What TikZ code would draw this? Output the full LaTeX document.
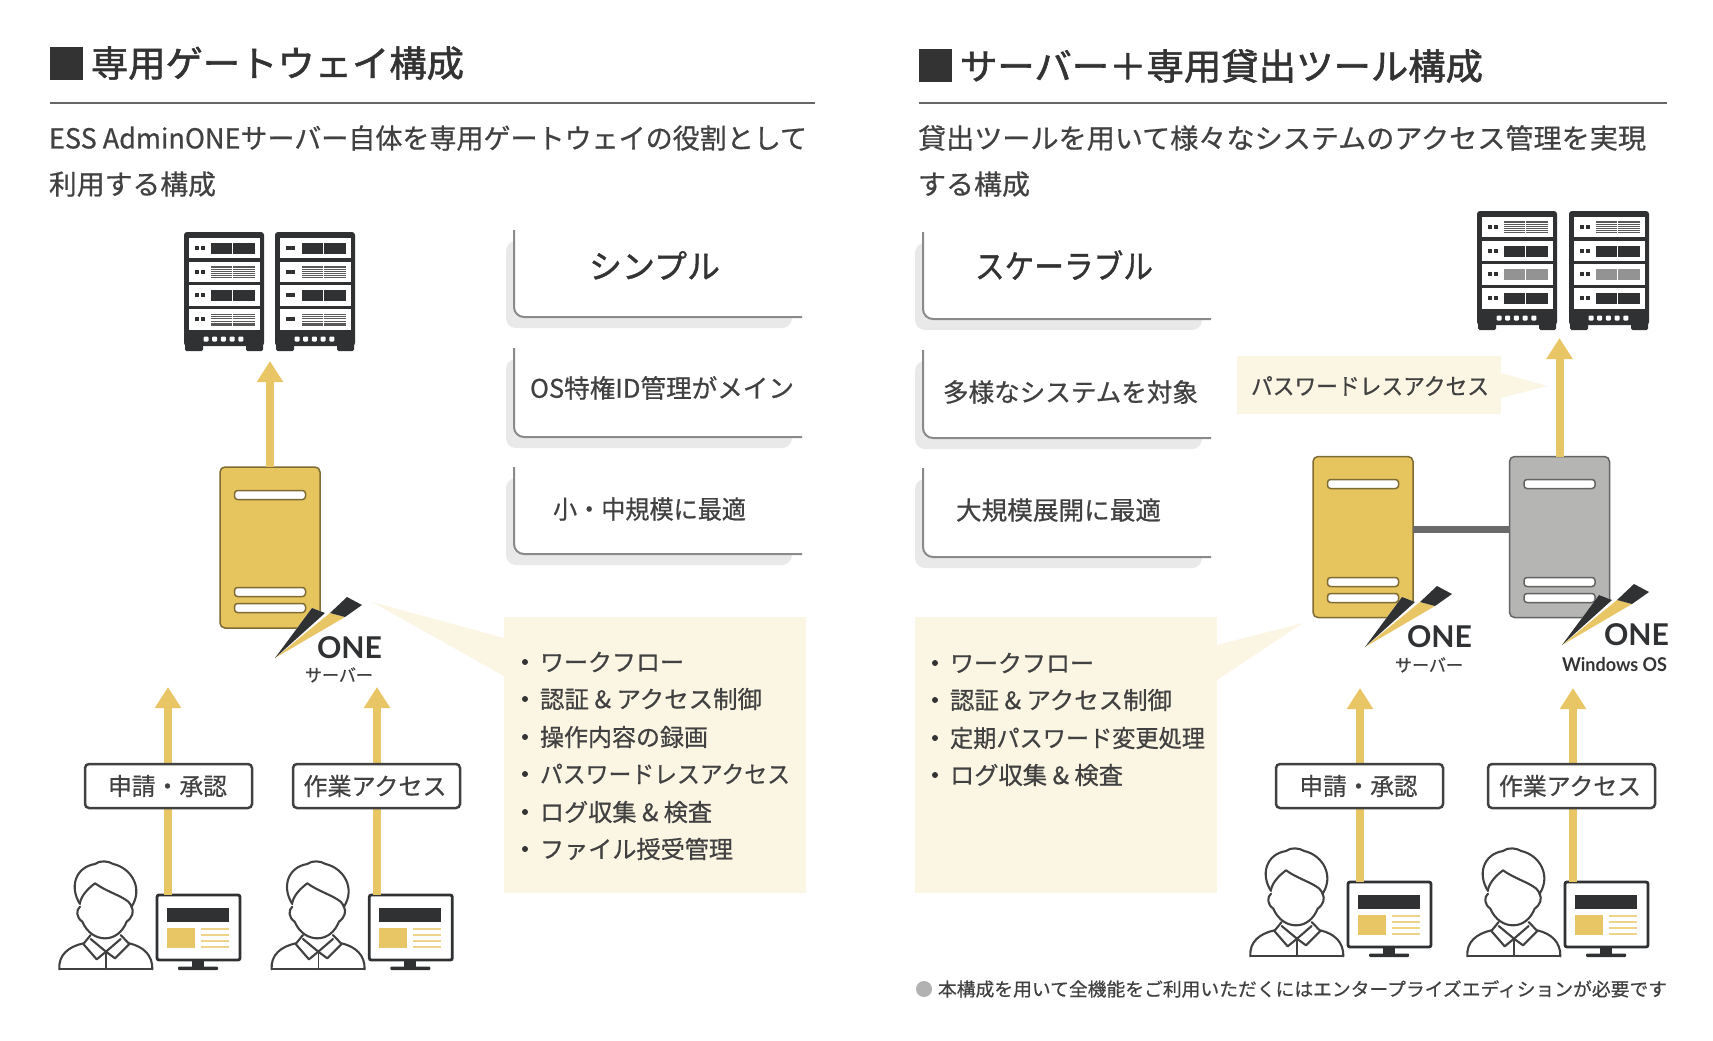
\documentclass[tikz,border=0pt]{standalone}
\usepackage{graphicx}
\usepackage{fontspec}
\usetikzlibrary{arrows.meta}
\setmainfont[FakeBold=0.6]{Noto Sans CJK JP}
\newfontfamily\jptitle[FakeBold=1.6]{Noto Sans CJK JP}
\newfontfamily\jphead[FakeBold=1.2]{Noto Sans CJK JP}
\newfontfamily\logofont[Scale=1]{Lato}
\definecolor{ink}{HTML}{414141}
\definecolor{inkd}{HTML}{333333}
\definecolor{gold}{HTML}{E8C665}
\definecolor{goldf}{HTML}{E6C45E}
\definecolor{cream}{HTML}{FBF5E3}
\definecolor{rackd}{HTML}{2F3133}
\definecolor{shad}{HTML}{E9E9E9}
\definecolor{cardl}{HTML}{8A8A8A}
\definecolor{greyf}{HTML}{B5B5B3}
\definecolor{lineg}{HTML}{6A6A6A}
\newcommand\W[2]{\resizebox{#1pt}{\height}{#2}}
\tikzset{
  tx/.style={inner sep=0pt,outer sep=0pt,text=ink,font=\fontsize{#1}{#1}\selectfont,execute at begin node={\rule[-.12em]{0pt}{1em}}},
  arr/.style={draw=gold,line width=8pt,-{Triangle[width=25pt,length=21pt]}},
  srv/.style={draw=#1!55!black,line width=1.5pt,rounded corners=5pt,minimum width=100pt,minimum height=161pt,inner sep=0pt,outer sep=0pt,fill=#1},
  slot/.style={draw=#1,line width=1.5pt,fill=white,rounded corners=3pt},
  tag/.style={draw=ink,line width=2.5pt,fill=white,rounded corners=4pt,minimum width=167pt,minimum height=44pt,inner sep=0pt,text=ink,font=\fontsize{24}{24}\selectfont},
  monf/.style={draw=rackd,line width=2.8pt,rounded corners=2pt,fill=white,minimum width=83pt,minimum height=65pt,inner sep=0pt,outer sep=0pt},
  prs/.style={draw=ink,line width=2.1pt,line join=round,line cap=round},
}
% rack icon: x, y, rows (ypos/type), led width
\newcommand\rackicon[4]{%
 \begin{scope}[shift={(#1,#2)}]
  \fill[rackd,rounded corners=3pt] (0,0) rectangle (80,114);
  \fill[rackd,rounded corners=1.5pt] (1,109) rectangle (19,119);
  \fill[rackd,rounded corners=1.5pt] (62,109) rectangle (79,119);
  \foreach \ry/\ty in {#3}{
    \fill[white] (5,\ry) rectangle (75.5,\ry+20.5);
    \if b#4
      \fill[rackd] (10.5,\ry+8) rectangle (20,\ry+12);
    \else
      \fill[rackd] (10.5,\ry+8) rectangle (14.5,\ry+12);
      \fill[rackd] (16.5,\ry+8) rectangle (20.5,\ry+12);
    \fi
    \foreach \pa/\pb in {27/47.8,49.2/71}{
      \if d\ty
        \fill[rackd] (\pa,\ry+5) rectangle (\pb,\ry+16);
      \else
        \if g\ty
          \fill[gray!85] (\pa,\ry+5) rectangle (\pb,\ry+16);
        \else
          \foreach \l in {5.5,7.7,9.9,12.1,14.3,16}{
            \draw[line width=1.1pt,black!65] (\pa,\ry+\l) -- (\pb,\ry+\l);
          }
        \fi
      \fi
    }
  }
  \foreach \d in {22,30.7,39.4,48.1,56.8}{
    \fill[white,rounded corners=1pt] (\d-2.5,104.5) rectangle (\d+2.5,109.5);
  }
 \end{scope}}
% slots of a server: x left, y values
\newcommand\slots[5]{%
  \foreach \sy in {#2,#3,#4}{
    \draw[slot=#5!55!black] (#1,\sy-4.5) rectangle (#1+71,\sy+4.5);
  }}
% ONE logo: tail x, y, name
\newcommand\onelogo[3]{%
 \begin{scope}[shift={(#1,#2)}]
  \fill[white] (0,0) -- (37,-50) -- (50,-45) -- (70,-41) -- (110,-41) -- (110,5) -- cycle;
  \fill[gold] (0,0) -- (55,-45) -- (70,-41) -- cycle;
  \fill[rackd] (0,0) -- (37,-50) -- (50,-45) -- cycle;
  \fill[rackd] (72,-61) -- (87,-53) -- (70,-41) -- (55,-45) -- cycle;
  \node[inner sep=0pt,text=rackd,font=\logofont\bfseries\fontsize{30}{30}\selectfont] (#3) at (74.5,-10.5) {\W{65}{ONE}};
 \end{scope}}
% person + monitor: dx dy monitor-name
\newcommand\usericon[3]{%
 \begin{scope}[shift={(#1,#2)}]
  \node[monf] (#3) at (198.5,927.5) {};
  \fill[rackd] (167,908) rectangle (229,922);
  \fill[gold] (167,928) rectangle (195,948);
  \foreach \l in {929,935,941,947}{\draw[line width=1.6pt,gold!75] (201,\l) -- (229,\l);}
  \fill[rackd] (192,961) rectangle (204,967);
  \fill[rackd,rounded corners=1pt] (178,966.5) rectangle (218,970);
 \end{scope}
 \begin{scope}[shift={(#1,#2+680)},x=.33333pt,y=-.33333pt]
  \draw[prs] (240,672) .. controls (208,622) and (225,562) .. (285,552) .. controls (300,540) and (325,543) .. (340,552) .. controls (395,565) and (430,625) .. (395,680);
  \draw[prs] (240,668) .. controls (245,645) and (265,625) .. (285,610) .. controls (320,635) and (360,645) .. (385,665) .. controls (392,672) and (393,676) .. (395,682);
  \draw[prs] (240,680) .. controls (228,690) and (228,712) .. (247,725) .. controls (262,760) and (290,775) .. (315,775) .. controls (345,775) and (368,755) .. (380,725) .. controls (398,712) and (402,695) .. (395,680);
  \draw[prs] (272,765) -- (250,792) -- (290,838) -- (318,815) -- (345,835) -- (388,792) -- (362,765);
  \draw[prs] (272,777) -- (318,815) -- (362,777);
  \draw[prs] (178,868) .. controls (175,825) and (205,800) .. (250,790);
  \draw[prs] (457,868) .. controls (458,825) and (430,800) .. (388,790);
  \draw[prs] (178,868) -- (457,868);
  \draw[prs,line width=1.4pt] (318,815) -- (318,868);
 \end{scope}}
\newcommand\card[5]{% x top bottom right shadowright
  \fill[shad,rounded corners=10pt] (#1-8,#2+11) rectangle (#5,#3+11);
  \fill[white,rounded corners=10pt] (#1,#2-4) rectangle (#4+20,#3);
  \fill[white] (#4,#2-4) rectangle (#4+24,#3+14);
  \draw[cardl,line width=2pt,rounded corners=10pt] (#1,#2) -- (#1,#3) -- (#4,#3);
}
\begin{document}
\begin{tikzpicture}[x=1pt,y=-1pt]
\useasboundingbox[fill=white] (0,0) rectangle (1713,1041);
% ---------- headers ----------
\fill[inkd] (50,47) rectangle (83,80);
\node[tx=36,anchor=west,text=inkd,font=\jptitle\fontsize{36}{36}\selectfont] (hL) at (91,63) {\W{373}{専用ゲートウェイ構成}};
\fill[inkd] (919,49) rectangle (952,82);
\node[tx=36,anchor=west,text=inkd,font=\jptitle\fontsize{36}{36}\selectfont] (hR) at (960,66) {\W{523}{サーバー＋専用貸出ツール構成}};
\draw[black!60,line width=1.5pt] (50,103) -- (815,103);
\draw[black!60,line width=1.5pt] (919,103) -- (1667,103);
\node[tx=27.5,anchor=west] (sL1) at (49,138) {\W{758}{ESS AdminONEサーバー自体を専用ゲートウェイの役割として}};
\node[tx=27.5,anchor=west] (sL2) at (49,184) {\W{167}{利用する構成}};
\node[tx=27.5,anchor=west] (sR1) at (918,138) {\W{728}{貸出ツールを用いて様々なシステムのアクセス管理を実現}};
\node[tx=27.5,anchor=west] (sR2) at (918,184) {\W{112}{する構成}};
% ---------- cards ----------
\card{514}{230}{317}{802}{792}
\card{514}{348}{437}{802}{792}
\card{514}{467}{554}{802}{792}
\card{923}{232}{319}{1211}{1202}
\card{923}{350}{438}{1211}{1202}
\card{923}{468}{557}{1211}{1202}
\node[tx=33,text=inkd,font=\jphead\fontsize{33}{33}\selectfont] (cL1) at (654.5,266) {\W{131}{シンプル}};
\node[tx=25.5,anchor=west] (cL2) at (530,388) {\W{264}{OS特権ID管理がメイン}};
\node[tx=25.5,anchor=west] (cL3) at (553,509) {\W{193}{小・中規模に最適}};
\node[tx=33,text=inkd,font=\jphead\fontsize{33}{33}\selectfont] (cR1) at (1064,266) {\W{178}{スケーラブル}};
\node[tx=25.5,anchor=west] (cR2) at (943,392) {\W{255}{多様なシステムを対象}};
\node[tx=25.5,anchor=west] (cR3) at (956,510) {\W{205}{大規模展開に最適}};
% ---------- cream panels ----------
\fill[cream] (372,602) -- (504,638) -- (504,676) -- cycle;
\fill[cream] (504,617) rectangle (806,893);
\fill[cream] (1303,623) -- (1217,645) -- (1217,680) -- cycle;
\fill[cream] (915,617) rectangle (1217,893);
\foreach \by in {662,699,737,774,812,849}{\fill[inkd] (525,\by) circle (3pt);}
\node[tx=24,anchor=west] (lA1) at (540,662) {\W{144}{ワークフロー}};
\node[tx=24,anchor=west] (lA2) at (540,699) {\W{222}{認証 \& アクセス制御}};
\node[tx=24,anchor=west] (lA3) at (540,737) {\W{168}{操作内容の録画}};
\node[tx=24,anchor=west] (lA4) at (540,774) {\W{250}{パスワードレスアクセス}};
\node[tx=24,anchor=west] (lA5) at (540,812) {\W{172}{ログ収集 \& 検査}};
\node[tx=24,anchor=west] (lA6) at (540,849) {\W{193}{ファイル授受管理}};
\foreach \by in {663,700,738,775}{\fill[inkd] (935,\by) circle (3pt);}
\node[tx=24,anchor=west] (lB1) at (950,663) {\W{144}{ワークフロー}};
\node[tx=24,anchor=west] (lB2) at (950,700) {\W{222}{認証 \& アクセス制御}};
\node[tx=24,anchor=west] (lB3) at (950,738) {\W{255}{定期パスワード変更処理}};
\node[tx=24,anchor=west] (lB4) at (950,775) {\W{173}{ログ収集 \& 検査}};
% ---------- racks ----------
\rackicon{184}{232}{5.5/d,29.5/s,53/d,77/s}{a}
\rackicon{275}{232}{5.5/d,29.5/s,53/d,77/s}{b}
\rackicon{1477}{211}{5.5/s,29.5/d,53/g,77/d}{a}
\rackicon{1569}{211}{5.5/s,29.5/d,53/g,77/d}{a}
% ---------- left server ----------
\node[srv=goldf] (srvL) at (270,547.5) {};
\slots{234.5}{495}{592}{608}{goldf}
\coordinate (tipL) at (270,361);
\draw[arr] (srvL.north) -- (tipL);
\onelogo{275}{658}{oneL}
\node[tx=17.5] (subL) at (339,675) {\W{68}{サーバー}};
% ---------- right servers ----------
\node[srv=goldf] (srvY) at (1363,537) {};
\slots{1327.5}{484}{582}{598}{goldf}
\node[srv=greyf] (srvG) at (1559.5,537) {};
\slots{1524}{484}{582}{598}{greyf}
\coordinate (lineY) at (0,529);
\draw[lineg,line width=7pt] (srvY.east |- lineY) -- (srvG.west |- lineY);
\coordinate (tipR) at (1559.5,338);
\draw[arr] (srvG.north) -- (tipR);
\onelogo{1365}{647}{oneY}
\onelogo{1562}{645}{oneG}
\node[tx=17.5] (subY) at (1429,665) {\W{68}{サーバー}};
\node[inner sep=0pt,text=inkd,font=\logofont\bfseries\fontsize{19}{19}\selectfont] (subG) at (1614.5,665) {\W{105}{Windows OS}};
% ---------- callout ----------
\fill[cream] (1501,373) -- (1547,386) -- (1501,398) -- cycle;
\fill[cream] (1237,356) rectangle (1501,414);
\node[tx=23,anchor=west] (call) at (1251,386) {\W{238}{パスワードレスアクセス}};
% ---------- users, arrows, tags ----------
\usericon{0}{0}{m1}
\usericon{212.3}{0}{m2}
\usericon{1191}{-13}{m3}
\usericon{1408}{-13}{m4}
\coordinate (t1) at (168,687);
\coordinate (t2) at (377,687);
\coordinate (t3) at (1360,688);
\coordinate (t4) at (1573,688);
\draw[arr] (m1.north -| t1) -- (t1);
\draw[arr] (m2.north -| t2) -- (t2);
\draw[arr] (m3.north -| t3) -- (t3);
\draw[arr] (m4.north -| t4) -- (t4);
\node[tag] (b1) at (168.5,786) {\hspace*{-2pt}\W{119}{申請・承認}};
\node[tag] (b2) at (376.5,786) {\hspace*{-3pt}\W{143}{作業アクセス}};
\node[tag] (b3) at (1359.5,786) {\hspace*{-2pt}\W{118}{申請・承認}};
\node[tag] (b4) at (1571.5,786) {\hspace*{-3pt}\W{142}{作業アクセス}};
% ---------- note ----------
\fill[black!30] (924,989) circle (8pt);
\node[tx=18.5,anchor=west] (note) at (938,989) {\W{729}{本構成を用いて全機能をご利用いただくにはエンタープライズエディションが必要です}};
\end{tikzpicture}
\end{document}
